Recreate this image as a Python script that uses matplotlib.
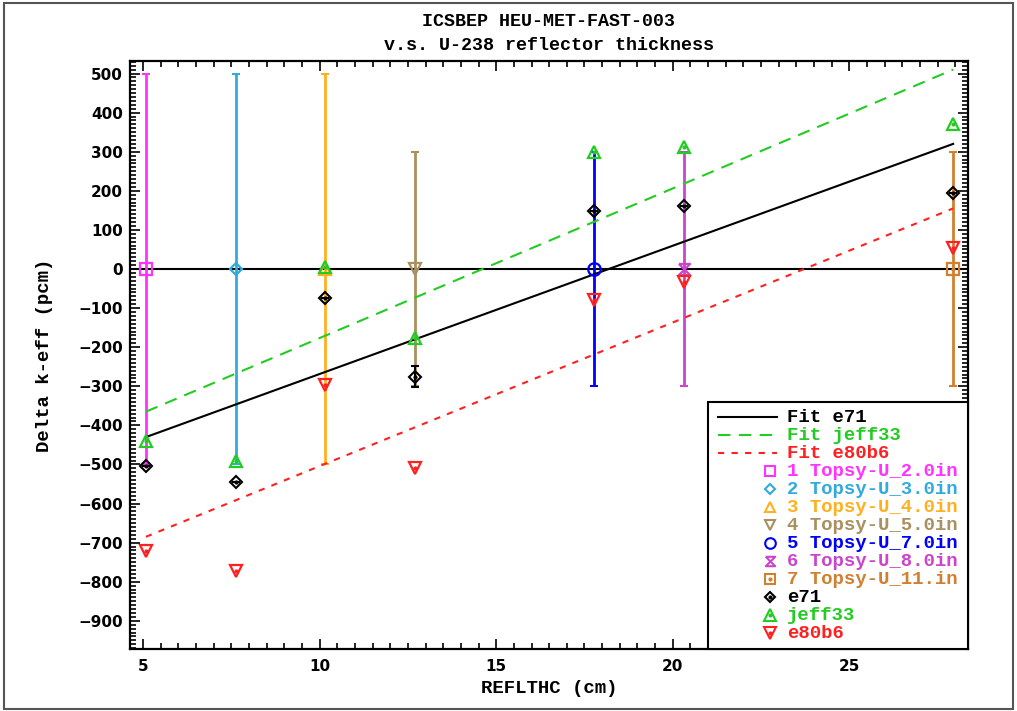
import numpy as np
import matplotlib
matplotlib.use("Agg")
import matplotlib.pyplot as plt
from matplotlib.path import Path
from matplotlib.patches import Rectangle
from matplotlib.ticker import MultipleLocator

# reflector thickness (cm) for each Topsy case
thick = [5.08, 7.62, 10.16, 12.7, 17.78, 20.32, 27.94]
topsy_labels = ["1 Topsy-U_2.0in", "2 Topsy-U_3.0in", "3 Topsy-U_4.0in",
                "4 Topsy-U_5.0in", "5 Topsy-U_7.0in", "6 Topsy-U_8.0in",
                "7 Topsy-U_11.in"]
topsy_val = [0, 0, 0, 0, 0, 0, 0]
topsy_err = [500, 500, 500, 300, 300, 300, 300]

e71 = [-505, -545, -75, -275, 148, 160, 195]
e71_err = [0, 0, 0, 28, 0, 0, 0]
jeff33 = [-440, -492, 5, -176, 299, 311, 372]
e80b6 = [-721, -772, -296, -509, -79, -32, 53]

fit_x = [5.08, 27.94]
fit_e71 = [-430, 320]
fit_jeff33 = [-365, 510]
fit_e80b6 = [-685, 155]

hourglass = Path([(-0.5, 0.5), (0.5, 0.5), (-0.5, -0.5), (0.5, -0.5), (-0.5, 0.5)])
topsy_colors = ["#ff33ff", "#33aadd", "#ffb020", "#a89060", "#0000ff", "#cc44cc", "#d08030"]
topsy_markers = ["s", "D", "^", "v", "o", hourglass, "s"]
topsy_ms = [9, 6.5, 9, 9, 9, 8, 8.5]
topsy_dot = [False, False, False, False, False, False, True]

green = "#22cc22"
red = "#ff2020"

mono = "Liberation Mono"

fig = plt.figure(figsize=(10.17, 7.11), dpi=100)
ax = fig.add_axes([130 / 1017, 62 / 711, 838 / 1017, 588 / 711])

# zero line
ax.axhline(0, color="black", lw=1.5, zorder=1.5)

# Topsy benchmark values with uncertainties
for i in range(len(thick)):
    ax.errorbar(thick[i], topsy_val[i], yerr=topsy_err[i], fmt="none",
                ecolor=topsy_colors[i], elinewidth=2, capsize=3, capthick=1.5, zorder=2)
    ax.plot(thick[i], topsy_val[i], marker=topsy_markers[i], ms=topsy_ms[i],
            mfc="none", mec=topsy_colors[i], mew=1.6, ls="none", zorder=3)
    if topsy_dot[i]:
        ax.plot(thick[i], topsy_val[i], marker="o", ms=2, color=topsy_colors[i], ls="none", zorder=3)

# fits
ax.plot(fit_x, fit_e71, color="black", lw=1.5, zorder=2.5)
ax.plot(fit_x, fit_jeff33, color=green, lw=1.5, ls=(0, (6, 4)), zorder=2.5)
ax.plot(fit_x, fit_e80b6, color=red, lw=1.5, ls=(0, (3, 3.5)), zorder=2.5)

# calculated values
ax.errorbar(thick, e71, yerr=e71_err, fmt="none", ecolor="black", elinewidth=1.5,
            capsize=3, capthick=1.5, zorder=3)
ax.plot(thick, e71, marker="D", ms=6, mfc="none", mec="black", mew=1.5, ls="none", zorder=4)
ax.plot(thick, e71, marker="o", ms=2, color="black", ls="none", zorder=4)
ax.plot(thick, jeff33, marker="^", ms=9, mfc="none", mec=green, mew=1.6, ls="none", zorder=4)
ax.plot(thick, jeff33, marker="o", ms=2, color=green, ls="none", zorder=4)
ax.plot(thick, e80b6, marker="v", ms=9, mfc="none", mec=red, mew=1.6, ls="none", zorder=4)
ax.plot(thick, e80b6, marker="o", ms=2, color=red, ls="none", zorder=4)

ax.set_xlim(4.63, 28.36)
ax.set_ylim(-972, 532)
ax.xaxis.set_major_locator(MultipleLocator(5))
ax.xaxis.set_minor_locator(MultipleLocator(0.5))
ax.yaxis.set_major_locator(MultipleLocator(100))
ax.yaxis.set_minor_locator(MultipleLocator(10))
ax.tick_params(which="both", direction="in", top=True, right=True, width=1.2)
ax.tick_params(which="major", length=7.5)
ax.tick_params(which="minor", length=4)
ax.tick_params(axis="x", pad=7)
ax.tick_params(axis="y", pad=5)
for lab in ax.get_xticklabels() + ax.get_yticklabels():
    lab.set_fontfamily("DejaVu Sans")
    lab.set_fontweight("bold")
    lab.set_fontsize(11)
for sp in ax.spines.values():
    sp.set_linewidth(1.6)

ax.set_xlabel("REFLTHC (cm)", family=mono, weight="bold", fontsize=13.7)
ax.set_ylabel("Delta k-eff (pcm)", family=mono, weight="bold", fontsize=13.7)
ax.xaxis.set_label_coords(0.5, -0.052)
ax.yaxis.set_label_coords(-0.092, 0.5)

fig.text(549 / 1017, 1 - 22 / 711, "ICSBEP HEU-MET-FAST-003", family=mono,
         weight="bold", fontsize=13.2, ha="center", va="center")
fig.text(549 / 1017, 1 - 45 / 711, "v.s. U-238 reflector thickness", family=mono,
         weight="bold", fontsize=13.2, ha="center", va="center")

# legend box drawn by hand (markers sit at the right end of the handle)
def axx(px):
    return (px - 130) / 838

def axy(py):
    return (649 - py) / 588

ax.add_patch(Rectangle((axx(708), 0), 1 - axx(708), axy(402), transform=ax.transAxes,
                       facecolor="white", edgecolor="black", lw=1.5, zorder=10, clip_on=False))

rows = [("Fit e71", "black", "line", "-"),
        ("Fit jeff33", green, "line", (0, (6, 4))),
        ("Fit e80b6", red, "line", (0, (3, 3.5)))]
for i in range(len(thick)):
    rows.append((topsy_labels[i], topsy_colors[i], "topsy", i))
rows += [("e71", "black", "calc", "D"), ("jeff33", green, "calc", "^"), ("e80b6", red, "calc", "v")]

for k, (label, col, kind, sty) in enumerate(rows):
    yy = axy(417 + 18.0 * k)
    if kind == "line":
        ax.plot([axx(718), axx(777)], [yy, yy], color=col, lw=1.5, ls=sty,
                transform=ax.transAxes, zorder=11, clip_on=False)
    elif kind == "topsy":
        ax.plot(axx(770), yy, marker=topsy_markers[sty], ms=topsy_ms[sty] * 0.85, mfc="none",
                mec=col, mew=1.5, transform=ax.transAxes, zorder=11, clip_on=False)
        if topsy_dot[sty]:
            ax.plot(axx(770), yy, marker="o", ms=2, color=col, transform=ax.transAxes,
                    zorder=11, clip_on=False)
    else:
        ms = 5.5 if sty == "D" else 8
        ax.plot(axx(770), yy, marker=sty, ms=ms, mfc="none", mec=col, mew=1.5,
                transform=ax.transAxes, zorder=11, clip_on=False)
        ax.plot(axx(770), yy, marker="o", ms=2, color=col, transform=ax.transAxes,
                zorder=11, clip_on=False)
    ax.text(axx(787), yy, label, color=col, family=mono, weight="bold", fontsize=13.7,
            ha="left", va="center", transform=ax.transAxes, zorder=12)

# outer frame around the whole picture
fig.add_artist(Rectangle((4 / 1017, 2 / 711), 1009 / 1017, 706 / 711, transform=fig.transFigure,
                         fill=False, edgecolor="#555555", lw=1.5))

fig.savefig("out.png", dpi=100, facecolor="white")
